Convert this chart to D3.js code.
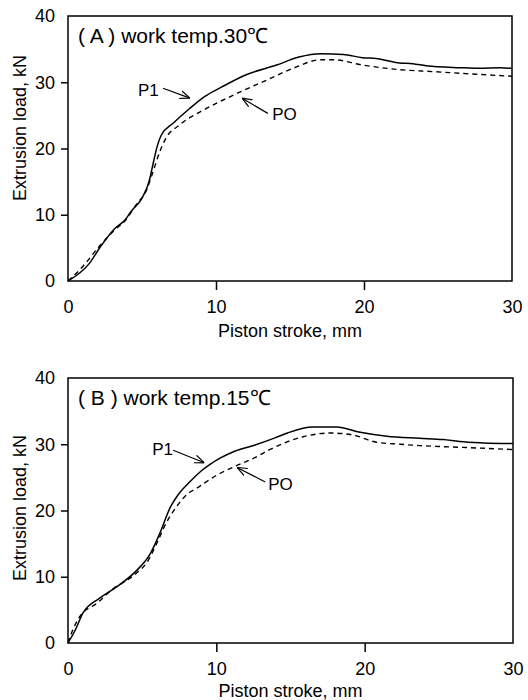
<!DOCTYPE html>
<html>
<head>
<meta charset="utf-8">
<script src="https://cdn.jsdelivr.net/npm/d3@7"></script>
<style>
  body { margin: 0; background: #fff; }
  svg text { font-family: "Liberation Sans", Arial, sans-serif; fill: #000; }
</style>
</head>
<body>
<div class="chart"></div>
<script>
(function(){

// values (x = piston stroke mm, y = extrusion load kN)
var xTicks = [0, 10, 20, 30];
var yTicks = [0, 10, 20, 30, 40];

var aP1x = [0, 1.46, 2.2, 3.15, 3.85, 4.3, 5.0, 5.5, 5.7, 6.0, 6.3, 7.1, 8.2, 9.2, 10.4, 12.0, 14.1, 15.6, 17.1, 18.6, 19.9, 20.8, 22.4, 23.3, 24.2, 26.5, 27.8, 29.2, 30];
var aP1y = [0, 2.7, 5.2, 7.9, 9.2, 10.6, 12.5, 15.2, 17.2, 20.1, 22.0, 23.8, 26.0, 27.8, 29.3, 31.1, 32.6, 33.8, 34.3, 34.2, 33.7, 33.6, 32.9, 32.8, 32.5, 32.2, 32.1, 32.2, 32.1];
var aP0x = [0, 1.0, 2.1, 3.15, 3.9, 4.6, 5.3, 5.7, 6.2, 6.6, 7.5, 8.9, 10.2, 11.6, 13.4, 15.2, 17.1, 17.9, 19.9, 22.4, 24.7, 26.9, 30];
var aP0y = [0, 2.2, 5.2, 7.7, 9.2, 11.5, 13.7, 16.2, 19.5, 21.5, 23.5, 25.5, 27.0, 28.5, 30.3, 32.1, 33.4, 33.4, 32.6, 31.9, 31.6, 31.3, 30.9];

var bP1x = [0, 0.5, 1.0, 2.16, 3.3, 4.65, 5.5, 6.2, 6.9, 7.4, 8.2, 9.0, 9.6, 10.25, 11.2, 12.5, 14.0, 14.8, 16.5, 18.1, 19.7, 21.5, 23.7, 25.3, 26.4, 28.0, 30];
var bP1y = [0, 2.0, 4.5, 6.8, 8.5, 11.0, 13.3, 16.6, 20.5, 22.3, 24.3, 26.0, 27.0, 27.9, 28.9, 29.8, 31.0, 31.7, 32.6, 32.6, 31.8, 31.2, 30.9, 30.7, 30.4, 30.2, 30.1];
var bP0x = [0, 0.27, 0.8, 1.95, 3.1, 4.0, 4.65, 5.3, 6.0, 6.5, 7.2, 8.0, 8.7, 10.0, 11.4, 12.7, 13.6, 15.8, 17.7, 19.2, 20.8, 22.4, 23.7, 24.6, 26.9, 30];
var bP0y = [0, 1.7, 4.0, 6.0, 8.3, 9.5, 10.6, 12.1, 15.1, 17.6, 20.2, 22.4, 23.4, 25.3, 26.8, 28.1, 29.2, 31.1, 31.7, 31.4, 30.3, 30.0, 29.8, 29.7, 29.5, 29.2];

// annotation anchors, data units: [textX, textY, arrowFromX, arrowFromY, arrowToX, arrowToY]
var aLabelP1 = [4.73, 28.0, 6.42, 29.1, 8.24, 27.6];
var aLabelP0 = [13.8, 24.3, 13.5, 25.3, 11.76, 27.6];
var bLabelP1 = [5.68, 28.4, 7.09, 29.1, 9.19, 27.2];
var bLabelP0 = [13.5, 23.1, 13.3, 24.3, 11.4, 26.5];

var width = 528,
    height = 700;

var svg = d3.select(".chart")
    .append("svg")
    .attr("width", width)
    .attr("height", height);

svg.append("defs").append("marker")
    .attr("id", "vhead")
    .attr("viewBox", "0 0 10 10")
    .attr("refX", 10)
    .attr("refY", 5)
    .attr("markerWidth", 10)
    .attr("markerHeight", 10)
    .attr("markerUnits", "userSpaceOnUse")
    .attr("orient", "auto")
    .append("path")
    .attr("d", "M0,1 L10,5 L0,9")
    .attr("fill", "none")
    .attr("stroke", "#000")
    .attr("stroke-width", 1.2);

drawPanel({top: 16, bottom: 281, left: 68, right: 512,
           title: "( A ) work temp.30\u2103", ytitleY: 128, xtitleY: 337,
           p1: zip(aP1x, aP1y), p0: zip(aP0x, aP0y), l1: aLabelP1, l0: aLabelP0});
drawPanel({top: 378, bottom: 643, left: 68, right: 513,
           title: "( B ) work temp.15\u2103", ytitleY: 508, xtitleY: 697,
           p1: zip(bP1x, bP1y), p0: zip(bP0x, bP0y), l1: bLabelP1, l0: bLabelP0});

function zip(xs, ys){
    return xs.map(function(x, i){ return [x, ys[i]]; });
}

function drawPanel(o){
    var x = d3.scaleLinear().domain([0, 30]).range([o.left, o.right]);
    var y = d3.scaleLinear().domain([0, 40]).range([o.bottom, o.top]);
    var g = svg.append("g");

    //y axis, ticks outward, none at the corners
    var yAxis = g.append("g")
        .attr("transform", "translate(" + o.left + ",0)")
        .call(d3.axisLeft(y).tickValues(yTicks).tickSize(7).tickPadding(6));
    axisStyle(yAxis);
    yAxis.selectAll(".tick line").filter(function(d){ return d === 0 || d === 40; }).remove();

    var xAxis = g.append("g")
        .attr("transform", "translate(0," + o.bottom + ")")
        .call(d3.axisBottom(x).tickValues(xTicks).tickSize(9).tickPadding(6));
    axisStyle(xAxis);
    xAxis.selectAll(".tick line").filter(function(d){ return d === 0 || d === 30; }).remove();
    xAxis.selectAll(".tick text").attr("dy", "0.95em");

    g.append("rect")
        .attr("x", o.left)
        .attr("y", o.top)
        .attr("width", o.right - o.left)
        .attr("height", o.bottom - o.top)
        .attr("fill", "none")
        .attr("stroke", "#000")
        .attr("stroke-width", 1.5);

    var line = d3.line()
        .x(function(d){ return x(d[0]); })
        .y(function(d){ return y(d[1]); })
        .curve(d3.curveMonotoneX);

    g.append("path")
        .datum(o.p0)
        .attr("d", line)
        .attr("fill", "none")
        .attr("stroke", "#000")
        .attr("stroke-width", 1.4)
        .attr("stroke-dasharray", "5,4");

    g.append("path")
        .datum(o.p1)
        .attr("d", line)
        .attr("fill", "none")
        .attr("stroke", "#000")
        .attr("stroke-width", 1.5);

    g.append("text")
        .attr("x", o.left + 10)
        .attr("y", o.top + 27)
        .style("font-size", "21px")
        .text(o.title);

    g.append("text")
        .attr("transform", "translate(26," + o.ytitleY + ") rotate(-90)")
        .attr("text-anchor", "middle")
        .style("font-size", "18px")
        .text("Extrusion load, kN");

    g.append("text")
        .attr("x", (o.left + o.right) / 2)
        .attr("y", o.xtitleY)
        .attr("text-anchor", "middle")
        .style("font-size", "18px")
        .text("Piston stroke, mm");

    [["P1", o.l1], ["PO", o.l0]].forEach(function(a){
        var v = a[1];
        g.append("text")
            .attr("x", x(v[0]))
            .attr("y", y(v[1]))
            .style("font-size", "17px")
            .text(a[0]);
        g.append("line")
            .attr("x1", x(v[2])).attr("y1", y(v[3]))
            .attr("x2", x(v[4])).attr("y2", y(v[5]))
            .attr("stroke", "#000")
            .attr("stroke-width", 1.2)
            .attr("marker-end", "url(#vhead)");
    });
}

function axisStyle(sel){
    sel.select(".domain").remove();
    sel.selectAll(".tick line").attr("stroke", "#000").attr("stroke-width", 1.5);
    sel.selectAll(".tick text")
        .style("font-size", "18px")
        .style("font-family", "'Liberation Sans', Arial, sans-serif")
        .attr("fill", "#000");
}

})();
</script>
</body>
</html>
